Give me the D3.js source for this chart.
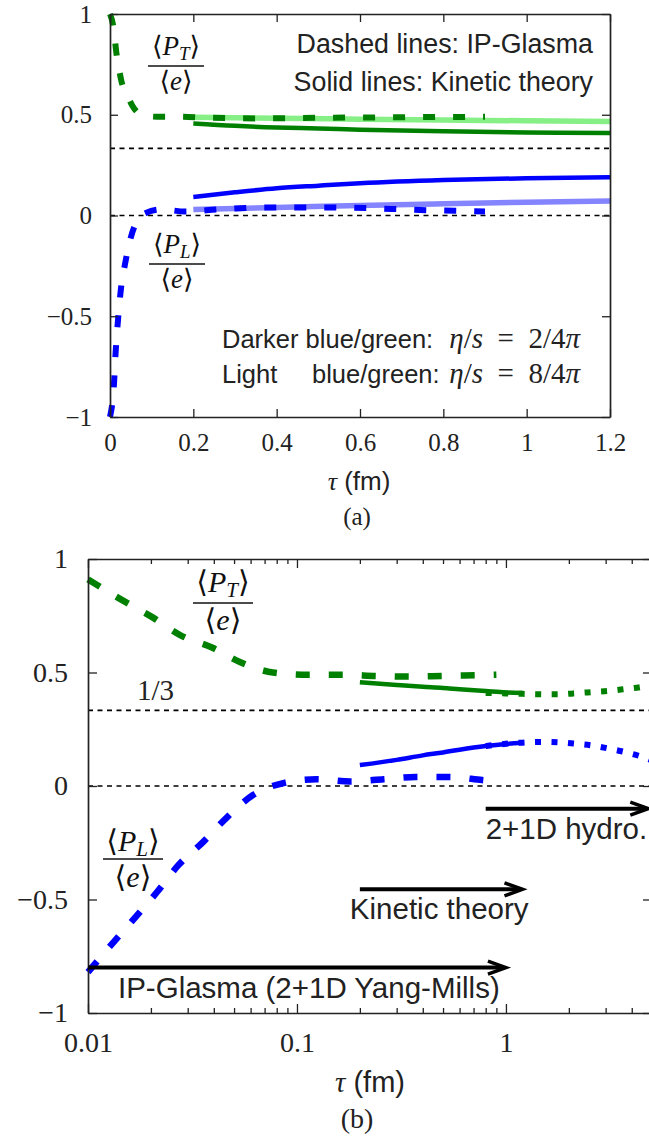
<!DOCTYPE html>
<html>
<head>
<meta charset="utf-8">
<script src="https://cdn.jsdelivr.net/npm/d3@7"></script>
<style>
  body { margin: 0; background: #fff; }
</style>
</head>
<body>
<svg id="fig" width="649" height="1139"></svg>
<script>
// ---------- axis ticks ----------
const ratioTicks = [-1, -0.5, 0, 0.5, 1];
const ratioTickLabels = ["\u22121", "\u22120.5", "0", "0.5", "1"];
const tauLinTicks = [0, 0.2, 0.4, 0.6, 0.8, 1, 1.2];
const tauLinTickLabels = ["0", "0.2", "0.4", "0.6", "0.8", "1", "1.2"];
const tauLogMajor = [0.01, 0.1, 1];
const tauLogMajorLabels = ["0.01", "0.1", "1"];
const tauLogMinor = [0.02, 0.03, 0.04, 0.05, 0.06, 0.07, 0.08, 0.09,
                     0.2, 0.3, 0.4, 0.5, 0.6, 0.7, 0.8, 0.9, 2, 3, 4];
const refLevels = [0, 1 / 3];

// ---------- series: [tau (fm), ratio] ----------
// IP-Glasma <P_T>/<e>
const glasmaPT = [[0, 1.0], [0.01, 0.91], [0.0145, 0.82], [0.0202, 0.745], [0.0276, 0.665],
  [0.0392, 0.61], [0.0533, 0.546], [0.0768, 0.50], [0.113, 0.49], [0.164, 0.49],
  [0.24, 0.485], [0.35, 0.482], [0.5, 0.485], [0.73, 0.488], [0.9, 0.49]];
// IP-Glasma <P_L>/<e>
const glasmaPL = [[0, -1.0], [0.01, -0.82], [0.0132, -0.69], [0.0168, -0.58], [0.0214, -0.467],
  [0.027, -0.35], [0.0355, -0.247], [0.046, -0.14], [0.0616, -0.04], [0.086, 0.013],
  [0.124, 0.03], [0.18, 0.02], [0.26, 0.03], [0.37, 0.04], [0.53, 0.04], [0.77, 0.026], [0.9, 0.02]];
// Kinetic theory, eta/s = 2/4pi
const kinPT2 = [[0.2, 0.457], [0.3, 0.445], [0.4, 0.437], [0.5, 0.432], [0.6, 0.426],
  [0.8, 0.418], [1.0, 0.412], [1.2, 0.41]];
const kinPL2 = [[0.2, 0.092], [0.3, 0.115], [0.4, 0.135], [0.5, 0.148], [0.6, 0.16],
  [0.8, 0.176], [1.0, 0.185], [1.2, 0.19]];
// Kinetic theory, eta/s = 8/4pi
const kinPT8 = [[0.2, 0.487], [0.4, 0.483], [0.6, 0.478], [0.8, 0.474], [1.0, 0.47], [1.2, 0.466]];
const kinPL8 = [[0.2, 0.03], [0.4, 0.04], [0.6, 0.05], [0.8, 0.058], [1.0, 0.066], [1.2, 0.072]];
// 2+1D hydro
const hydroPT = [[0.8, 0.41], [1.0, 0.408], [1.2, 0.406], [1.5, 0.404], [1.8, 0.404], [2.1, 0.408],
  [2.6, 0.414], [3.1, 0.419], [3.7, 0.427], [4.5, 0.437], [5, 0.445]];
const hydroPL = [[0.8, 0.176], [1.0, 0.186], [1.2, 0.191], [1.5, 0.194], [1.8, 0.192], [2.1, 0.187],
  [2.6, 0.178], [3.1, 0.165], [3.7, 0.15], [4.5, 0.128], [5, 0.113]];

// stage ranges (tau from, tau to) for the bottom panel arrows
const stageLabels = ["IP-Glasma (2+1D Yang-Mills)", "Kinetic theory", "2+1D hydro."];
const stageFrom = [0.01, 0.2, 0.8];
const stageTo = [1.0, 1.2, 4.8];

// ---------- styling ----------
const GREEN = "#008000", BLUE = "#0000ff";
const LGREEN = "#86ef86", LBLUE = "#8484ff";
const INK = "#222";
const SERIF = "'Liberation Serif', 'DejaVu Serif', serif";
const SANS = "'Liberation Sans', Arial, sans-serif";
const BRACKET = "'DejaVu Serif', 'DejaVu Sans', serif";

const svg = d3.select("#fig");
svg.append("rect").attr("width", 649).attr("height", 1139).attr("fill", "#fff");

function styleAxis(g, fs) {
  g.attr("font-family", SERIF).attr("font-size", fs).attr("color", INK);
  g.select(".domain").attr("stroke-width", 1.7);
  g.selectAll(".tick line").attr("stroke-width", 1.3);
}

function drawFrac(g, cx, barY, sub, fs, barW, numOff, denOff) {
  g.append("line").attr("x1", cx - barW / 2).attr("x2", cx + barW / 2)
    .attr("y1", barY).attr("y2", barY).attr("stroke", "#111").attr("stroke-width", 1.7);
  const num = g.append("text").attr("x", cx).attr("y", barY - numOff)
    .attr("text-anchor", "middle").attr("font-family", SERIF).attr("font-size", fs).attr("fill", "#111");
  num.append("tspan").attr("font-family", BRACKET).text("\u27E8");
  num.append("tspan").attr("font-style", "italic").text("P");
  num.append("tspan").attr("font-style", "italic").attr("font-size", fs * 0.7).attr("dy", fs * 0.18).text(sub);
  num.append("tspan").attr("dy", -fs * 0.18).attr("font-family", BRACKET).text("\u27E9");
  const den = g.append("text").attr("x", cx).attr("y", barY + denOff)
    .attr("text-anchor", "middle").attr("font-family", SERIF).attr("font-size", fs).attr("fill", "#111");
  den.append("tspan").attr("font-family", BRACKET).text("\u27E8");
  den.append("tspan").attr("font-style", "italic").text("e");
  den.append("tspan").attr("font-family", BRACKET).text("\u27E9");
}

function tauLabel(g, cx, baseY, fs) {
  const t = g.append("text").attr("x", cx).attr("y", baseY).attr("text-anchor", "middle")
    .attr("font-size", fs).attr("fill", INK);
  t.append("tspan").attr("font-family", SERIF).attr("font-style", "italic").text("\u03C4");
  t.append("tspan").attr("font-family", SANS).text(" (fm)");
}

// ================= panel (a): linear time axis =================
{
  const g = svg.append("g");
  const x = d3.scaleLinear([0, 1.2], [110, 610]);
  const y = d3.scaleLinear([-1, 1], [417, 14]);
  const line = d3.line().x(d => x(d[0])).y(d => y(d[1])).curve(d3.curveMonotoneX);

  // reference levels 0 and 1/3
  g.selectAll(".ref").data(refLevels).join("line")
    .attr("x1", x(0)).attr("x2", x(1.2)).attr("y1", d => y(d)).attr("y2", d => y(d))
    .attr("stroke", "#000").attr("stroke-width", 1.6).attr("stroke-dasharray", "5 4.5");

  const curves = g.append("g");
  // light (eta/s = 8/4pi) kinetic curves
  curves.append("path").attr("d", line(kinPT8)).attr("fill", "none").attr("stroke", LGREEN).attr("stroke-width", 5.5);
  curves.append("path").attr("d", line(kinPL8)).attr("fill", "none").attr("stroke", LBLUE).attr("stroke-width", 5.5);
  // dark (eta/s = 2/4pi) kinetic curves
  curves.append("path").attr("d", line(kinPT2)).attr("fill", "none").attr("stroke", GREEN).attr("stroke-width", 4.5);
  curves.append("path").attr("d", line(kinPL2)).attr("fill", "none").attr("stroke", BLUE).attr("stroke-width", 4.5);
  // IP-Glasma
  curves.append("path").attr("d", line(glasmaPT)).attr("fill", "none").attr("stroke", GREEN)
    .attr("stroke-width", 6).attr("stroke-dasharray", "12 18");
  curves.append("path").attr("d", line(glasmaPL)).attr("fill", "none").attr("stroke", BLUE)
    .attr("stroke-width", 6).attr("stroke-dasharray", "12 18");

  // axes (ticks pointing inward, mirrored on top/right)
  const fs = 25;
  const ax1 = g.append("g").attr("transform", `translate(0,${y(-1)})`)
    .call(d3.axisBottom(x).tickValues(tauLinTicks).tickSizeInner(-8).tickSizeOuter(0).tickPadding(16)
      .tickFormat((d, i) => tauLinTickLabels[i]));
  styleAxis(ax1, fs);
  const ax2 = g.append("g").attr("transform", `translate(0,${y(1)})`)
    .call(d3.axisTop(x).tickValues(tauLinTicks).tickSizeInner(-8).tickSizeOuter(0).tickFormat(""));
  styleAxis(ax2, fs);
  const ax3 = g.append("g").attr("transform", `translate(${x(0)},0)`)
    .call(d3.axisLeft(y).tickValues(ratioTicks).tickSizeInner(-8).tickSizeOuter(0).tickPadding(18)
      .tickFormat((d, i) => ratioTickLabels[i]));
  styleAxis(ax3, fs);
  const ax4 = g.append("g").attr("transform", `translate(${x(1.2)},0)`)
    .call(d3.axisRight(y).tickValues(ratioTicks).tickSizeInner(-8).tickSizeOuter(0).tickFormat(""));
  styleAxis(ax4, fs);

  // legend text
  const leg = g.append("g").attr("font-family", SANS).attr("font-size", 26.8).attr("fill", INK).attr("text-anchor", "end");
  leg.append("text").attr("x", 593).attr("y", 53).text("Dashed lines: IP-Glasma");
  leg.append("text").attr("x", 593).attr("y", 91).text("Solid lines: Kinetic theory");

  // viscosity key: sans words followed by a math expression ending at the same right edge
  function etaLine(yb, words, wordsX, val) {
    g.append("text").attr("x", wordsX).attr("y", yb).attr("font-family", SANS)
      .attr("font-size", 25.5).attr("fill", INK).text(words);
    const t = g.append("text").attr("x", 580).attr("y", yb).attr("text-anchor", "end")
      .attr("font-family", SERIF).attr("font-size", 29).attr("fill", INK);
    t.append("tspan").attr("font-style", "italic").text("\u03B7");
    t.append("tspan").text("/");
    t.append("tspan").attr("font-style", "italic").text("s");
    t.append("tspan").text("\u2002=\u2002" + val + "/4");
    t.append("tspan").attr("font-style", "italic").text("\u03C0");
  }
  etaLine(348, "Darker blue/green:", 222, "2");
  etaLine(383, "blue/green:", 312, "8");
  g.append("text").attr("x", 222).attr("y", 383).attr("font-family", SANS).attr("font-size", 25.5)
    .attr("fill", INK).text("Light");

  drawFrac(g, 176, 66, "T", 27, 56, 11, 24);
  drawFrac(g, 177, 264, "L", 27, 56, 11, 24);

  tauLabel(g, 359, 490, 26);
  g.append("text").attr("x", 357).attr("y", 525).attr("text-anchor", "middle")
    .attr("font-family", SERIF).attr("font-size", 25).attr("fill", INK).text("(a)");
}

// ================= panel (b): logarithmic time axis =================
{
  const g = svg.append("g");
  const x = d3.scaleLog([0.01, 5], [88, 652]);
  const y = d3.scaleLinear([-1, 1], [1013, 559]);
  const line = d3.line().x(d => x(d[0])).y(d => y(d[1])).curve(d3.curveMonotoneX);
  const pos = s => s.filter(d => d[0] > 0);

  g.selectAll(".ref").data(refLevels).join("line")
    .attr("x1", x(0.01)).attr("x2", x(5)).attr("y1", d => y(d)).attr("y2", d => y(d))
    .attr("stroke", "#000").attr("stroke-width", 1.6).attr("stroke-dasharray", "5 4.5");

  // kinetic theory (eta/s = 2/4pi)
  g.append("path").attr("d", line(kinPT2)).attr("fill", "none").attr("stroke", GREEN).attr("stroke-width", 4.5);
  g.append("path").attr("d", line(kinPL2)).attr("fill", "none").attr("stroke", BLUE).attr("stroke-width", 4.5);
  // hydro (dotted)
  g.append("path").attr("d", line(hydroPT)).attr("fill", "none").attr("stroke", GREEN)
    .attr("stroke-width", 6).attr("stroke-dasharray", "6 10.5");
  g.append("path").attr("d", line(hydroPL)).attr("fill", "none").attr("stroke", BLUE)
    .attr("stroke-width", 6).attr("stroke-dasharray", "6 10.5");
  // IP-Glasma (dashed)
  g.append("path").attr("d", line(pos(glasmaPT))).attr("fill", "none").attr("stroke", GREEN)
    .attr("stroke-width", 6.5).attr("stroke-dasharray", "14 19");
  g.append("path").attr("d", line(pos(glasmaPL))).attr("fill", "none").attr("stroke", BLUE)
    .attr("stroke-width", 6.5).attr("stroke-dasharray", "14 19");

  const fs = 28;
  const allTicks = tauLogMajor.concat(tauLogMinor);
  const isMajor = d => tauLogMajor.includes(d);
  const ax1 = g.append("g").attr("transform", `translate(0,${y(-1)})`)
    .call(d3.axisBottom(x).tickValues(allTicks).tickSizeInner(-9).tickSizeOuter(0).tickPadding(19)
      .tickFormat(d => isMajor(d) ? tauLogMajorLabels[tauLogMajor.indexOf(d)] : ""));
  styleAxis(ax1, fs);
  ax1.selectAll(".tick line").attr("y2", d => isMajor(d) ? -9 : -5);
  const ax2 = g.append("g").attr("transform", `translate(0,${y(1)})`)
    .call(d3.axisTop(x).tickValues(allTicks).tickSizeInner(-9).tickSizeOuter(0).tickFormat(""));
  styleAxis(ax2, fs);
  ax2.selectAll(".tick line").attr("y2", d => isMajor(d) ? 9 : 5);
  const ax3 = g.append("g").attr("transform", `translate(${x(0.01)},0)`)
    .call(d3.axisLeft(y).tickValues(ratioTicks).tickSizeInner(-9).tickSizeOuter(0).tickPadding(20)
      .tickFormat((d, i) => ratioTickLabels[i]));
  styleAxis(ax3, fs);
  const ax4 = g.append("g").attr("transform", `translate(${x(5)},0)`)
    .call(d3.axisRight(y).tickValues(ratioTicks).tickSizeInner(-9).tickSizeOuter(0).tickFormat(""));
  styleAxis(ax4, fs);

  // stage arrows
  const arrowY = [-0.8, -0.455, -0.1];
  const textDx = [30, -10, 0];
  stageLabels.forEach((lab, i) => {
    const x1 = x(stageFrom[i]), x2 = x(stageTo[i]), yy = y(arrowY[i]);
    g.append("line").attr("x1", x1).attr("x2", x2 - 2).attr("y1", yy).attr("y2", yy)
      .attr("stroke", "#000").attr("stroke-width", 4);
    g.append("path").attr("d", `M${x2 - 18},${yy - 6.5}L${x2},${yy}L${x2 - 18},${yy + 6.5}`)
      .attr("fill", "none").attr("stroke", "#000").attr("stroke-width", 3.5).attr("stroke-linejoin", "miter");
    g.append("text").attr("x", x1 + textDx[i]).attr("y", yy + 30)
      .attr("font-family", SANS).attr("font-size", 29.5).attr("fill", INK).text(lab);
  });

  drawFrac(g, 223, 603, "T", 30, 60, 11, 27);
  drawFrac(g, 133, 859, "L", 30, 60, 8, 28);

  g.append("text").attr("x", 137).attr("y", 700).attr("font-family", SERIF).attr("font-size", 29)
    .attr("fill", INK).text("1/3");

  tauLabel(g, 370, 1092, 29);
  g.append("text").attr("x", 357).attr("y", 1128).attr("text-anchor", "middle")
    .attr("font-family", SERIF).attr("font-size", 28).attr("fill", INK).text("(b)");
}
</script>
</body>
</html>
